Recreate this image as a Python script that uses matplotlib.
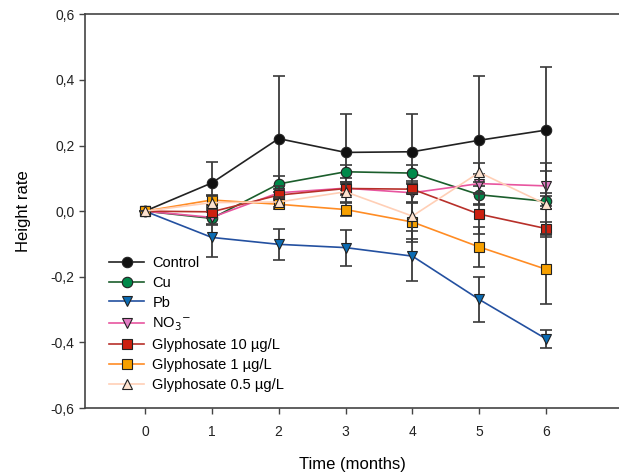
import matplotlib

matplotlib.use("Agg")
import matplotlib.pyplot as plt
from matplotlib.ticker import FixedLocator, FuncFormatter, MultipleLocator

plt.rcParams["font.family"] = ["Liberation Sans", "DejaVu Sans"]

months = [0, 1, 2, 3, 4, 5, 6]

control = [0.0, 0.086, 0.221, 0.179, 0.181, 0.216, 0.247]
control_err = [0.0, 0.064, 0.19, 0.116, 0.114, 0.197, 0.193]
cu = [0.0, -0.022, 0.083, 0.120, 0.116, 0.050, 0.030]
cu_err = [0.0, 0.02, 0.025, 0.02, 0.025, 0.027, 0.015]
pb = [0.0, -0.080, -0.101, -0.111, -0.137, -0.269, -0.389]
pb_err = [0.0, 0.06, 0.048, 0.055, 0.077, 0.068, 0.027]
no3 = [0.0, -0.019, 0.056, 0.070, 0.056, 0.084, 0.077]
no3_err = [0.0, 0.02, 0.02, 0.02, 0.03, 0.03, 0.07]
gly10 = [0.0, -0.002, 0.049, 0.069, 0.067, -0.009, -0.053]
gly10_err = [0.0, 0.015, 0.02, 0.015, 0.015, 0.06, 0.02]
gly1 = [0.0, 0.034, 0.021, 0.005, -0.033, -0.109, -0.177]
gly1_err = [0.0, 0.015, 0.015, 0.02, 0.06, 0.06, 0.106]
gly05 = [0.0, 0.026, 0.028, 0.059, -0.015, 0.118, 0.021]
gly05_err = [0.0, 0.02, 0.015, 0.03, 0.07, 0.03, 0.1]

series = [
    ("Control", control, control_err, "o", "#111111", "#222222"),
    ("Cu", cu, cu_err, "o", "#00894a", "#1b5e2c"),
    ("Pb", pb, pb_err, "v", "#0b6cb4", "#2350a0"),
    ("NO$_3$$^{\\mathsf{-}}$", no3, no3_err, "v", "#e27cc4", "#e8559f"),
    ("Glyphosate 10 µg/L", gly10, gly10_err, "s", "#cc2010", "#b8302a"),
    ("Glyphosate 1 µg/L", gly1, gly1_err, "s", "#f7a000", "#ff8c24"),
    ("Glyphosate 0.5 µg/L", gly05, gly05_err, "^", "#fde2cf", "#ffcfb6"),
]

fig = plt.figure(figsize=(6.19, 4.74), dpi=100)
ax = fig.add_axes([0.137, 0.139, 0.864, 0.831])

for i, (label, vals, errs, marker, mcolor, lcolor) in enumerate(series):
    ax.errorbar(
        months,
        vals,
        yerr=errs,
        fmt="none",
        ecolor="#3a3a3a",
        elinewidth=1.3,
        capsize=4.5,
        capthick=1.2,
        zorder=2 + i * 0.1,
    )
    ax.plot(
        months,
        vals,
        color=lcolor,
        linewidth=1.2,
        marker=marker,
        markersize=7.5,
        markerfacecolor=mcolor,
        markeredgecolor="#222222",
        markeredgewidth=0.8,
        label=label,
        zorder=2.05 + i * 0.1,
    )

ax.set_xlim(-0.9, 7.1)
ax.set_ylim(-0.6, 0.6)
ax.xaxis.set_major_locator(FixedLocator(months))
ax.yaxis.set_major_locator(MultipleLocator(0.2))
ax.yaxis.set_major_formatter(
    FuncFormatter(lambda v, _: f"{v:.1f}".replace(".", ",").replace("-0,0", "0,0"))
)
ax.tick_params(direction="out", length=4, width=1, colors="#444444", labelcolor="#222222", labelsize=10)
ax.tick_params(axis="x", pad=8)
for side in ["left", "top", "bottom"]:
    ax.spines[side].set_color("#444444")
    ax.spines[side].set_linewidth(1.2)
ax.spines["right"].set_visible(False)

ax.set_xlabel("Time (months)", fontsize=12, labelpad=13)
ax.set_ylabel("Height rate", fontsize=12, labelpad=14)

ax.legend(
    loc="lower left",
    bbox_to_anchor=(0.016, 0.0),
    frameon=False,
    fontsize=10.5,
    handlelength=2.4,
    handletextpad=0.55,
    labelspacing=0.4,
    borderaxespad=0.7,
)

fig.savefig("out.png", dpi=100)
